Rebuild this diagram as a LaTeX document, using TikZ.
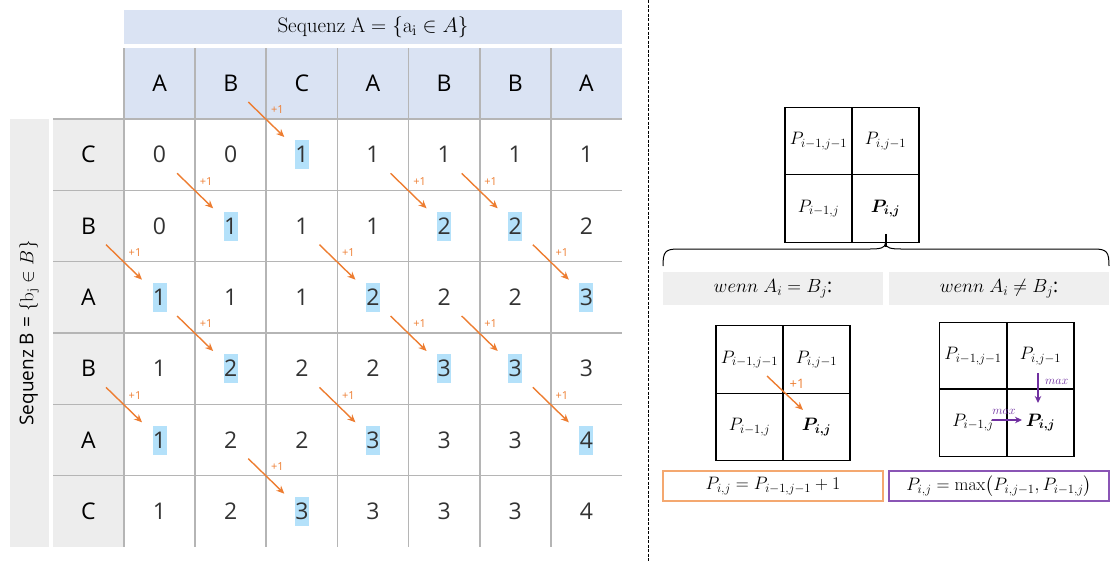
\RequirePackage{fix-cm}
\documentclass[tikz,border=0pt]{standalone}
\usepackage{amsmath,bm}
\usepackage[no-math]{fontspec}
\setmainfont{Open Sans}
\usetikzlibrary{arrows.meta,calc}
\definecolor{hdrblue}{HTML}{DAE3F3}
\definecolor{lgray}{HTML}{EDEDED}
\definecolor{boxgray}{HTML}{EFEFEF}
\definecolor{hlblue}{HTML}{B4E1FA}
\definecolor{orng}{HTML}{ED7D31}
\definecolor{lorng}{HTML}{F4A870}
\definecolor{purp}{HTML}{7030A0}
\definecolor{lpurp}{HTML}{8A55B5}
\definecolor{gridgray}{HTML}{B5B5B5}
\definecolor{numcol}{HTML}{333333}
\begin{document}
\begin{tikzpicture}[x=1pt,y=-1pt,
  gridline/.style={draw=gridgray,line width=1.6pt},
  lettxt/.style={font=\fontsize{23}{23}\selectfont,text=black},
  numtxt/.style={font=\fontsize{23}{23}\selectfont,text=numcol},
  plusarr/.style={draw=orng,line width=1.4pt,-{Stealth[length=8pt,width=7pt]}},
  pluslbl/.style={text=orng,font=\fontsize{11}{11}\selectfont,inner sep=0pt},
  maxarr/.style={draw=purp,line width=1.4pt,-{Stealth[length=7pt,width=6.5pt]}},
  maxlbl/.style={text=purp,font=\fontsize{12}{12}\selectfont,inner sep=0pt},
  pcell/.style={draw=black,line width=1.2pt,minimum width=67pt,minimum height=67.5pt,inner sep=0pt,font=\fontsize{18}{18}\selectfont},
  graybox/.style={fill=boxgray,draw=none,minimum width=220pt,minimum height=33pt,inner sep=0pt,font=\fontsize{19}{19}\selectfont},
  formbox/.style={draw=#1,line width=1.3pt,fill=white,minimum width=220pt,minimum height=30pt,inner sep=0pt,font=\fontsize{18}{18}\selectfont}
]
\useasboundingbox (0,0) rectangle (1110,562);
\def\cw{71.143}\def\rh{71.333}
% header
\fill[hdrblue] (124,10) rectangle (622,44);
\node[font=\fontsize{21}{21}\selectfont] (seqA) at (373,27) {$\mathrm{Sequenz\ A} = \{\mathrm{a_i}\in A\}$};
\fill[hdrblue] (124,48) rectangle (622,119);
\fill[lgray] (10,119) rectangle (49,547);
\fill[lgray] (53,119) rectangle (124,547);
\node[rotate=90,font=\fontsize{19}{19}\selectfont] (seqB) at (29,333) {Sequenz B = $\{\mathrm{b_j}\in B\}$};
% highlights
\foreach \r/\c in {1/3,2/2,2/5,2/6,3/1,3/4,3/7,4/2,4/5,4/6,5/1,5/4,5/7,6/3}
  \fill[hlblue] ({124+\cw*(\c-0.5)-7},{119+\rh*(\r-0.5)-14.5}) rectangle ++(14,29);
% grid
\foreach \r in {0,...,5} \draw[gridline] (53,{119+\rh*\r}) -- (622,{119+\rh*\r});
\foreach \c in {0,...,6} \draw[gridline] ({124+\cw*\c},48) -- ({124+\cw*\c},547);
% letters
\foreach \l [count=\c] in {A,B,C,A,B,B,A}
  \node[lettxt] (ha-\c) at ({124+\cw*(\c-0.5)},83.5) {\l};
\foreach \l [count=\r] in {C,B,A,B,A,C}
  \node[lettxt] (hb-\r) at (88.5,{119+\rh*(\r-0.5)}) {\l};
% numbers
\foreach \vals [count=\r] in {{0,0,1,1,1,1,1},{0,1,1,1,2,2,2},{1,1,1,2,2,2,3},{1,2,2,2,3,3,3},{1,2,2,3,3,3,4},{1,2,3,3,3,3,4}}
  \foreach \v [count=\c] in \vals
    \node[numtxt] (n-\r-\c) at ({124+\cw*(\c-0.5)},{119+\rh*(\r-0.5)}) {\v};
% arrows
\foreach \r/\c in {1/3,2/2,2/5,2/6,3/1,3/4,3/7,4/2,4/5,4/6,5/1,5/4,5/7,6/3}{
  \coordinate (k-\r-\c) at ({124+\cw*(\c-1)},{119+\rh*(\r-1)});
  \draw[plusarr] ($(k-\r-\c)+(-18,-17)$) -- ($(k-\r-\c)+(18,18)$);
  \node[pluslbl] (p-\r-\c) at ($(k-\r-\c)+(11,-9)$) {+1};
}
% separator
\draw[dash pattern=on 3pt off 1.5pt,line width=0.9pt] (648,0) -- (648,562);
% right: top grid
\node[pcell] (t11) at (818.5,141) {$P_{i-1,j-1}$};
\node[pcell] (t12) at (885.5,141) {$P_{i,j-1}$};
\node[pcell] (t21) at (818.5,208.5) {$P_{i-1,j}$};
\node[pcell] (t22) at (885.5,208.5) {$\bm{P_{i,j}}$};
\coordinate (btip) at (885.5,247);
\draw[line width=2pt] ($(t22.south)+(0,-9)$) -- (btip);
\draw[line width=1pt] (663,266) .. controls (663,252) and (665,249) .. (678,249) -- (870,249) .. controls (880,249) and (885.5,248) .. (885.5,243) .. controls (885.5,248) and (891,249) .. (901,249) -- (1094,249) .. controls (1107,249) and (1109,252) .. (1109,266);
% condition boxes
\node[graybox] (wl) at (773,288.5) {$wenn\ A_i = B_j$:};
\node[graybox] (wr) at (999,288.5) {$wenn\ A_i \neq B_j$:};
% lower left grid
\node[pcell] (l11) at (749.5,359.5) {$P_{i-1,j-1}$};
\node[pcell] (l12) at (816.5,359.5) {$P_{i,j-1}$};
\node[pcell] (l21) at (749.5,427) {$P_{i-1,j}$};
\node[pcell] (l22) at (816.5,427) {$\bm{P_{i,j}}$};
\draw[plusarr] ($(l11.center)+(17.5,16.5)$) -- ($(l22.center)+(-13.5,-17)$);
\node[text=orng,font=\fontsize{13}{13}\selectfont,inner sep=0pt] (lp) at (797,384) {+1};
% lower right grid
\node[pcell] (r11) at (973,356) {$P_{i-1,j-1}$};
\node[pcell] (r12) at (1040.5,356) {$P_{i,j-1}$};
\node[pcell] (r21) at (973,422.5) {$P_{i-1,j}$};
\node[pcell] (r22) at (1040.5,422.5) {$\bm{P_{i,j}}$};
\draw[maxarr] ($(r12.center)+(-2.5,17)$) -- ($(r22.center)+(-2.5,-19.5)$);
\node[maxlbl,anchor=west] (m1) at (1045,382) {$max$};
\draw[maxarr] ($(r21.center)+(19,-2.5)$) -- ($(r22.center)+(-18.5,-2.5)$);
\node[maxlbl] (m2) at (1004,412) {$max$};
% formula boxes
\node[formbox=lorng] (fl) at (773,486) {$P_{i,j} = P_{i-1,j-1} + 1$};
\node[formbox=lpurp] (fr) at (999,486) {$P_{i,j} = \max\bigl(P_{i,j-1}, P_{i-1,j}\bigr)$};
\end{tikzpicture}
\end{document}
